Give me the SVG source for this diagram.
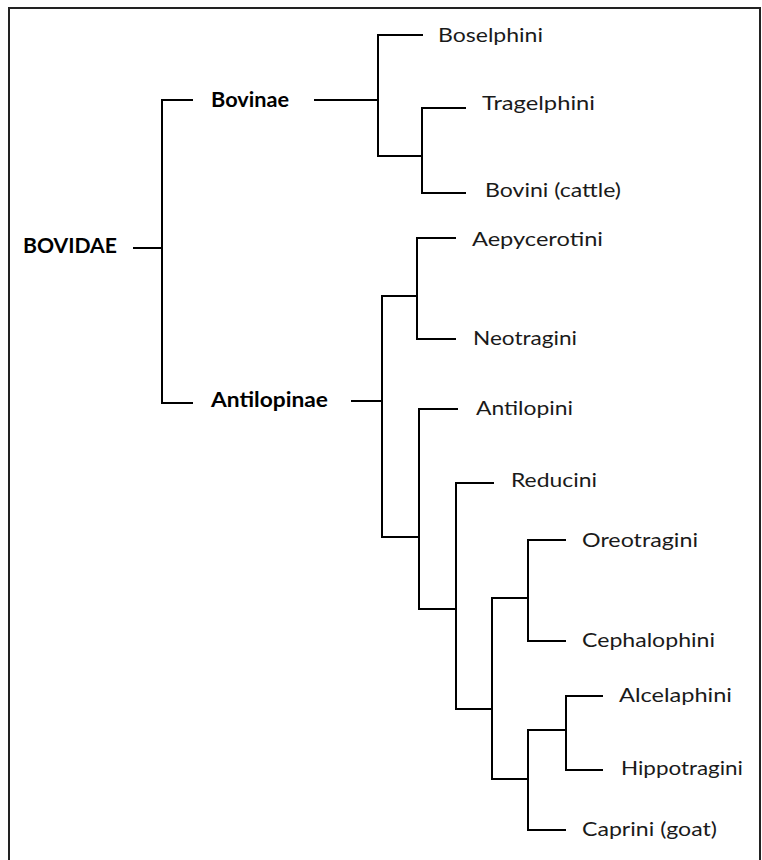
<svg xmlns="http://www.w3.org/2000/svg" width="762" height="860" viewBox="0 0 762 860">
<style>
  .lbl { font-family: Lato, "Liberation Sans", sans-serif; font-size: 19px; fill: #1a1a1a; }
  .bold { font-weight: bold; font-size: 20px; fill: #000; }
  .edge { stroke: #000; stroke-width: 2; fill: none; stroke-linecap: square; }
  .frame { stroke: #222; stroke-width: 2; fill: #fff; }
</style>
<rect width="762" height="860" fill="#fff"/>
<path class="frame" d="M9 870 V8 H760 V870"/>
<g id="connectors">
  <path class="edge" d="M134 248 H162"/>
  <path class="edge" d="M192 100 H162 V403 H192"/>
  <path class="edge" d="M315 100 H378"/>
  <path class="edge" d="M422 35 H378 V156 H422"/>
  <path class="edge" d="M465 108 H422 V193 H465"/>
  <path class="edge" d="M352 401 H382"/>
  <path class="edge" d="M417 296 H382 V537 H419"/>
  <path class="edge" d="M455 238 H417 V339 H455"/>
  <path class="edge" d="M457 409 H419 V609 H456"/>
  <path class="edge" d="M493 483 H456 V709 H492"/>
  <path class="edge" d="M528 598 H492 V779 H528"/>
  <path class="edge" d="M565 540 H528 V641 H565"/>
  <path class="edge" d="M566 730 H528 V830 H565"/>
  <path class="edge" d="M602 696 H566 V770 H602"/>
</g>
<g id="n-bovidae"><text class="lbl bold" x="23" y="253" textLength="94" lengthAdjust="spacingAndGlyphs">BOVIDAE</text></g>
<g id="n-bovinae"><text class="lbl bold" x="211" y="107" textLength="78" lengthAdjust="spacingAndGlyphs">Bovinae</text></g>
<g id="n-antilopinae"><text class="lbl bold" x="211" y="407" textLength="117" lengthAdjust="spacingAndGlyphs">Antilopinae</text></g>
<g id="n-boselphini"><text class="lbl" x="438" y="42" textLength="105" lengthAdjust="spacingAndGlyphs">Boselphini</text></g>
<g id="n-tragelphini"><text class="lbl" x="482" y="110" textLength="113" lengthAdjust="spacingAndGlyphs">Tragelphini</text></g>
<g id="n-bovini"><text class="lbl" x="485" y="197" textLength="136" lengthAdjust="spacingAndGlyphs">Bovini (cattle)</text></g>
<g id="n-aepycerotini"><text class="lbl" x="472" y="246" textLength="131" lengthAdjust="spacingAndGlyphs">Aepycerotini</text></g>
<g id="n-neotragini"><text class="lbl" x="473" y="345" textLength="104" lengthAdjust="spacingAndGlyphs">Neotragini</text></g>
<g id="n-antilopini"><text class="lbl" x="476" y="415" textLength="97" lengthAdjust="spacingAndGlyphs">Antilopini</text></g>
<g id="n-reducini"><text class="lbl" x="511" y="487" textLength="86" lengthAdjust="spacingAndGlyphs">Reducini</text></g>
<g id="n-oreotragini"><text class="lbl" x="582" y="547" textLength="116" lengthAdjust="spacingAndGlyphs">Oreotragini</text></g>
<g id="n-cephalophini"><text class="lbl" x="582" y="647" textLength="133" lengthAdjust="spacingAndGlyphs">Cephalophini</text></g>
<g id="n-alcelaphini"><text class="lbl" x="619" y="702" textLength="113" lengthAdjust="spacingAndGlyphs">Alcelaphini</text></g>
<g id="n-hippotragini"><text class="lbl" x="621" y="775" textLength="122" lengthAdjust="spacingAndGlyphs">Hippotragini</text></g>
<g id="n-caprini"><text class="lbl" x="582" y="836" textLength="135" lengthAdjust="spacingAndGlyphs">Caprini (goat)</text></g>
</svg>
